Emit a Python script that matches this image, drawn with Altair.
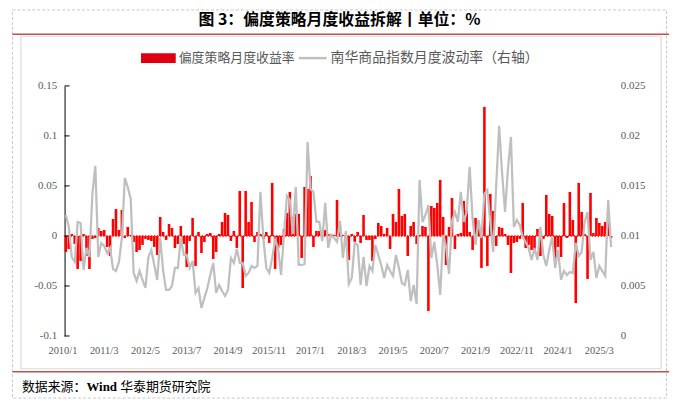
import altair as alt
import pandas as pd

# ---------------- data ----------------
months = [f"{2010 + i // 12}/{i % 12 + 1}" for i in range(186)]
tick_months = months[::14]

strategy_ret = [
    -0.016, -0.013, 0.002, -0.008, -0.033, -0.025, 0.002, -0.020, -0.033, -0.003,
    -0.002, 0.008, 0.005, 0.006, -0.011, -0.020, 0.017, 0.027, 0.006, 0.026,
    -0.002, 0.009, 0.001, -0.006, -0.016, -0.014, -0.009, -0.003, -0.004, -0.005,
    -0.011, -0.019, 0.019, 0.004, -0.004, 0.012, 0.008, -0.012, -0.008, 0.010,
    -0.008, -0.031, -0.005, 0.018, -0.030, 0.004, -0.017, -0.006, 0.002, 0.003,
    -0.023, -0.016, 0.002, 0.014, 0.023, 0.021, -0.005, 0.005, -0.012, 0.045,
    -0.052, 0.045, 0.014, 0.034, -0.006, 0.004, 0.002, -0.003, 0.004, -0.007,
    0.053, -0.033, -0.012, -0.009, 0.007, 0.023, 0.044, 0.019, 0.022, 0.022,
    -0.022, 0.049, 0.047, 0.060, -0.011, 0.005, 0.005, 0.002, 0.006, 0.002,
    0.002, 0.001, 0.036, 0.009, 0.001, -0.006, -0.024, 0.002, -0.006, 0.004,
    -0.007, 0.021, -0.004, -0.004, -0.025, -0.003, 0.013, 0.010, 0.002, 0.008,
    -0.013, 0.022, 0.014, 0.047, 0.020, 0.022, -0.020, 0.010, 0.014, -0.008,
    0.001, 0.010, 0.009, -0.075, 0.030, 0.028, 0.033, 0.056, 0.019, -0.029,
    0.009, 0.038, -0.013, 0.002, 0.003, 0.035, 0.026, 0.004, -0.014, 0.018,
    0.014, -0.032, 0.129, -0.030, 0.042, 0.025, -0.010, 0.009, 0.008, 0.002,
    -0.009, -0.037, -0.007, -0.006, -0.003, 0.033, -0.012, -0.009, -0.014, -0.014,
    0.007, -0.020, -0.003, 0.041, 0.022, 0.020, -0.022, -0.011, -0.021, 0.033,
    -0.002, 0.044, 0.016, -0.067, 0.053, 0.024, 0.002, -0.043, 0.043, 0.003,
    0.018, 0.013, 0.010, 0.014, 0.025, -0.002,
]

nanhua_vol = [
    0.0121, 0.0109, 0.0079, 0.0074, 0.0114, 0.0113, 0.0066, 0.0088, 0.0079, 0.0142,
    0.0170, 0.0079, 0.0093, 0.0090, 0.0083, 0.0088, 0.0067, 0.0065, 0.0074, 0.0098,
    0.0158, 0.0149, 0.0137, 0.0063, 0.0055, 0.0065, 0.0056, 0.0048, 0.0079, 0.0086,
    0.0071, 0.0056, 0.0098, 0.0065, 0.0046, 0.0046, 0.0050, 0.0068, 0.0068, 0.0098,
    0.0081, 0.0081, 0.0068, 0.0075, 0.0043, 0.0048, 0.0028, 0.0038, 0.0048, 0.0061,
    0.0073, 0.0043, 0.0051, 0.0045, 0.0040, 0.0046, 0.0078, 0.0073, 0.0087, 0.0073,
    0.0073, 0.0060, 0.0063, 0.0070, 0.0068, 0.0070, 0.0144, 0.0098, 0.0068, 0.0063,
    0.0078, 0.0096, 0.0088, 0.0061, 0.0101, 0.0140, 0.0136, 0.0102, 0.0149, 0.0071,
    0.0071, 0.0072, 0.0194, 0.0147, 0.0144, 0.0114, 0.0114, 0.0095, 0.0133, 0.0088,
    0.0101, 0.0098, 0.0094, 0.0115, 0.0078, 0.0105, 0.0052, 0.0058, 0.0093, 0.0091,
    0.0051, 0.0079, 0.0050, 0.0070, 0.0065, 0.0091, 0.0081, 0.0071, 0.0058, 0.0071,
    0.0065, 0.0060, 0.0081, 0.0068, 0.0053, 0.0051, 0.0066, 0.0035, 0.0051, 0.0032,
    0.0156, 0.0114, 0.0121, 0.0131, 0.0078, 0.0094, 0.0071, 0.0041, 0.0101, 0.0089,
    0.0062, 0.0115, 0.0124, 0.0114, 0.0144, 0.0114, 0.0124, 0.0169, 0.0117, 0.0091,
    0.0116, 0.0098, 0.0142, 0.0146, 0.0114, 0.0084, 0.0150, 0.0210, 0.0163, 0.0124,
    0.0167, 0.0199, 0.0109, 0.0116, 0.0111, 0.0099, 0.0094, 0.0088, 0.0076, 0.0088,
    0.0076, 0.0109, 0.0081, 0.0070, 0.0086, 0.0099, 0.0068, 0.0086, 0.0056, 0.0065,
    0.0061, 0.0064, 0.0063, 0.0093, 0.0080, 0.0084, 0.0114, 0.0124, 0.0076, 0.0084,
    0.0058, 0.0070, 0.0065, 0.0060, 0.0136, 0.0089,
]

left_ticks = [-0.1, -0.05, 0, 0.05, 0.1, 0.15]
right_ticks = [0, 0.005, 0.01, 0.015, 0.02, 0.025]

title_text = "图 3：偏度策略月度收益拆解丨单位：%"
legend_bar = "偏度策略月度收益率"
legend_line = "南华商品指数月度波动率（右轴）"
source_a = "数据来源："
source_b = "Wind"
source_c = "华泰期货研究院"

df = pd.DataFrame({"month": months, "ret": strategy_ret, "vol": nanhua_vol})
ticks_df = pd.DataFrame({"v": left_ticks})
zero_df = pd.DataFrame({"v": [0]})
one = pd.DataFrame({"k": [0]})

W, H = 552, 252
LEFT_DOMAIN = [-0.1, 0.15]
RIGHT_DOMAIN = [0, 0.025]
LABEL_GRAY = "#595959"
SERIF = "Liberation Serif"
CJK = "Noto Sans CJK SC"

x_enc = alt.X(
    "month:O", sort=months,
    scale=alt.Scale(paddingInner=0.12, paddingOuter=0.0),
    axis=alt.Axis(values=tick_months, title=None, ticks=False, domain=False,
                  labelAngle=0, labelFont=SERIF, labelFontSize=10.5,
                  labelColor=LABEL_GRAY, labelPadding=10, labelOffset=-3,
                  labelOverlap=False),
)

left_scale = alt.Scale(domain=LEFT_DOMAIN, nice=False)
left_axis = alt.Axis(values=left_ticks, title=None, orient="left",
                     ticks=False, domain=True, domainColor="#000000",
                     domainWidth=1, grid=False,
                     labelExpr="'' + datum.value", labelFont=SERIF,
                     labelFontSize=11, labelColor=LABEL_GRAY,
                     labelPadding=8)

bars = alt.Chart(df).mark_bar(color="#ff0000").encode(
    x=x_enc,
    y=alt.Y("ret:Q", scale=left_scale, axis=left_axis),
    y2=alt.datum(0),
)

zero_rule = alt.Chart(zero_df).mark_rule(
    color="#ff0000", strokeDash=[1.5, 1.5], strokeWidth=1.5
).encode(
    y=alt.Y("v:Q", scale=left_scale, axis=left_axis),
    x=alt.value(0), x2=alt.value(W),
)

tick_rules = alt.Chart(ticks_df).mark_rule(color="#000000", strokeWidth=1).encode(
    y=alt.Y("v:Q", scale=left_scale, axis=left_axis),
    x=alt.value(0), x2=alt.value(5),
)

left_layer = alt.layer(bars, zero_rule, tick_rules)

line = alt.Chart(df).mark_line(color="#bfbfbf", strokeWidth=2.25).encode(
    x=alt.X("month:O", sort=months),
    y=alt.Y("vol:Q", scale=alt.Scale(domain=RIGHT_DOMAIN, nice=False),
            axis=alt.Axis(values=right_ticks, title=None, orient="right",
                          ticks=False, domain=False, grid=False,
                          labelExpr="'' + datum.value", labelFont=SERIF,
                          labelFontSize=11, labelColor=LABEL_GRAY,
                          labelPadding=8)),
)

# ---------------- frame / title / legend / source ----------------
outer_box = alt.Chart(one).mark_rect(
    fill="transparent", stroke="#c8c8c8", strokeDash=[3, 2], strokeWidth=1
).encode(x=alt.value(-52.5), x2=alt.value(606.5), y=alt.value(-76.5), y2=alt.value(314.5))

inner_box = alt.Chart(one).mark_rect(
    fill="transparent", stroke="#d9d9d9", strokeWidth=1.2
).encode(x=alt.value(-44), x2=alt.value(601), y=alt.value(-50), y2=alt.value(285))

sep_top = alt.Chart(one).mark_rule(color="#c0504d", strokeWidth=1.5).encode(
    x=alt.value(-52.5), x2=alt.value(612), y=alt.value(-52))
sep_bottom = alt.Chart(one).mark_rule(color="#c0504d", strokeWidth=1.5).encode(
    x=alt.value(-52.5), x2=alt.value(612), y=alt.value(288))

title = alt.Chart(one).mark_text(
    text=title_text, font=CJK, fontWeight="bold", fontSize=16, color="#000000",
    align="center", baseline="middle"
).encode(x=alt.value(277), y=alt.value(-66))

leg_swatch = alt.Chart(one).mark_rect(color="#e00010").encode(
    x=alt.value(77), x2=alt.value(112), y=alt.value(-33), y2=alt.value(-23))
leg_text1 = alt.Chart(one).mark_text(
    text=legend_bar, font=CJK, fontSize=13, color=LABEL_GRAY,
    align="left", baseline="middle"
).encode(x=alt.value(115), y=alt.value(-28))
leg_line = alt.Chart(one).mark_rule(color="#bfbfbf", strokeWidth=2.5).encode(
    x=alt.value(236), x2=alt.value(264), y=alt.value(-28))
leg_text2 = alt.Chart(one).mark_text(
    text=legend_line, font=CJK, fontSize=14, color=LABEL_GRAY,
    align="left", baseline="middle"
).encode(x=alt.value(268), y=alt.value(-28))

src1 = alt.Chart(one).mark_text(
    text=source_a, font=CJK, fontSize=13, color="#000000",
    align="left", baseline="middle"
).encode(x=alt.value(-43), y=alt.value(303))
src2 = alt.Chart(one).mark_text(
    text=source_b, font=SERIF, fontWeight="bold", fontSize=13, color="#000000",
    align="left", baseline="middle"
).encode(x=alt.value(22), y=alt.value(303))
src3 = alt.Chart(one).mark_text(
    text=source_c, font=CJK, fontSize=13, color="#000000",
    align="left", baseline="middle"
).encode(x=alt.value(56), y=alt.value(303))

chart = alt.layer(
    outer_box, inner_box, sep_top, sep_bottom, title,
    leg_swatch, leg_text1, leg_line, leg_text2,
    src1, src2, src3,
    left_layer, line,
).resolve_scale(y="independent").properties(
    width=W, height=H,
    padding={"left": 57, "top": 77, "right": 57, "bottom": 63},
    autosize=alt.AutoSizeParams(type="none"),
).configure_view(stroke=None)

chart.save("out.html", embed_options={"renderer": "svg", "actions": False})
